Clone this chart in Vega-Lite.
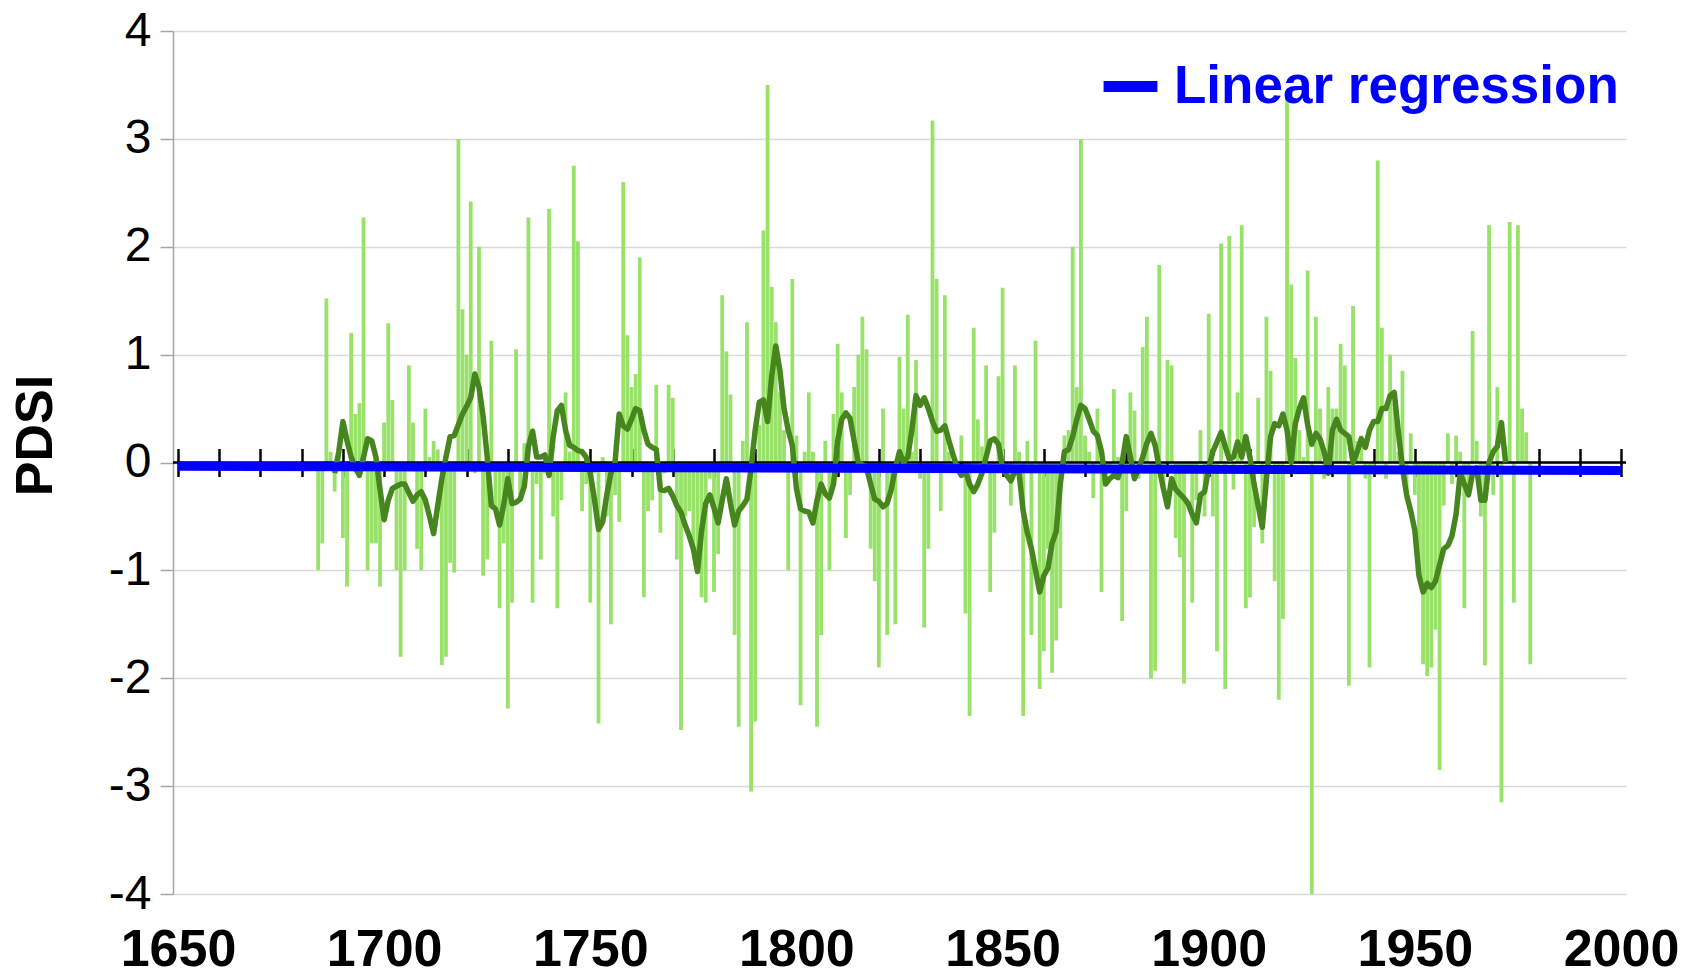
{
  "$schema": "https://vega.github.io/schema/vega-lite/v6.json",
  "autosize": "none",
  "width": 1453,
  "height": 863,
  "padding": {"left": 173, "top": 31, "right": 68, "bottom": 82},
  "background": "white",
  "config": {"view": {"stroke": null}, "font": "Liberation Sans"},
  "datasets": {
    "bars": [
{"year":1684,"pdsi":-1.0},{"year":1685,"pdsi":-0.75},{"year":1686,"pdsi":1.52},{"year":1687,"pdsi":0.1},{"year":1688,"pdsi":-0.27},{"year":1689,"pdsi":0.15},{"year":1690,"pdsi":-0.7},{"year":1691,"pdsi":-1.15},{"year":1692,"pdsi":1.2},{"year":1693,"pdsi":0.45},{"year":1694,"pdsi":0.55},{"year":1695,"pdsi":2.27},{"year":1696,"pdsi":-1.0},{"year":1697,"pdsi":-0.75},{"year":1698,"pdsi":-0.75},{"year":1699,"pdsi":-1.15},
{"year":1700,"pdsi":0.37},{"year":1701,"pdsi":1.29},{"year":1702,"pdsi":0.58},{"year":1703,"pdsi":-1.0},{"year":1704,"pdsi":-1.8},{"year":1705,"pdsi":-1.0},{"year":1706,"pdsi":0.9},{"year":1707,"pdsi":0.37},{"year":1708,"pdsi":-0.8},{"year":1709,"pdsi":-1.0},
{"year":1710,"pdsi":0.5},{"year":1711,"pdsi":0.05},{"year":1712,"pdsi":0.2},{"year":1713,"pdsi":0.12},{"year":1714,"pdsi":-1.88},{"year":1715,"pdsi":-1.8},{"year":1716,"pdsi":-0.93},{"year":1717,"pdsi":-1.02},{"year":1718,"pdsi":3.0},{"year":1719,"pdsi":1.42},
{"year":1720,"pdsi":1.0},{"year":1721,"pdsi":2.42},{"year":1722,"pdsi":-0.1},{"year":1723,"pdsi":2.0},{"year":1724,"pdsi":-1.05},{"year":1725,"pdsi":-0.9},{"year":1726,"pdsi":1.13},{"year":1727,"pdsi":-0.45},{"year":1728,"pdsi":-1.35},{"year":1729,"pdsi":-0.75},
{"year":1730,"pdsi":-2.28},{"year":1731,"pdsi":-1.3},{"year":1732,"pdsi":1.05},{"year":1733,"pdsi":-0.3},{"year":1734,"pdsi":0.18},{"year":1735,"pdsi":2.27},{"year":1736,"pdsi":-1.3},{"year":1737,"pdsi":-0.2},{"year":1738,"pdsi":-0.9},{"year":1739,"pdsi":-0.1},
{"year":1740,"pdsi":2.35},{"year":1741,"pdsi":-0.5},{"year":1742,"pdsi":-1.35},{"year":1743,"pdsi":-0.35},{"year":1744,"pdsi":0.65},{"year":1745,"pdsi":0.1},{"year":1746,"pdsi":2.75},{"year":1747,"pdsi":2.05},{"year":1748,"pdsi":-0.45},{"year":1749,"pdsi":-0.2},
{"year":1750,"pdsi":-1.3},{"year":1751,"pdsi":-0.1},{"year":1752,"pdsi":-2.42},{"year":1753,"pdsi":0.05},{"year":1754,"pdsi":-0.5},{"year":1755,"pdsi":-1.5},{"year":1756,"pdsi":-0.3},{"year":1757,"pdsi":-0.55},{"year":1758,"pdsi":2.6},{"year":1759,"pdsi":1.18},
{"year":1760,"pdsi":0.7},{"year":1761,"pdsi":0.82},{"year":1762,"pdsi":1.9},{"year":1763,"pdsi":-1.25},{"year":1764,"pdsi":-0.45},{"year":1765,"pdsi":-0.35},{"year":1766,"pdsi":0.72},{"year":1767,"pdsi":-0.65},{"year":1768,"pdsi":-0.1},{"year":1769,"pdsi":0.72},
{"year":1770,"pdsi":0.6},{"year":1771,"pdsi":-0.9},{"year":1772,"pdsi":-2.48},{"year":1773,"pdsi":-0.5},{"year":1774,"pdsi":-0.45},{"year":1775,"pdsi":-0.8},{"year":1776,"pdsi":-0.9},{"year":1777,"pdsi":-1.25},{"year":1778,"pdsi":-1.3},{"year":1779,"pdsi":-0.15},
{"year":1780,"pdsi":-1.2},{"year":1781,"pdsi":-0.85},{"year":1782,"pdsi":1.55},{"year":1783,"pdsi":1.03},{"year":1784,"pdsi":0.63},{"year":1785,"pdsi":-1.6},{"year":1786,"pdsi":-2.45},{"year":1787,"pdsi":0.2},{"year":1788,"pdsi":1.3},{"year":1789,"pdsi":-3.05},
{"year":1790,"pdsi":-2.4},{"year":1791,"pdsi":0.35},{"year":1792,"pdsi":2.15},{"year":1793,"pdsi":3.5},{"year":1794,"pdsi":1.63},{"year":1795,"pdsi":1.3},{"year":1796,"pdsi":0.65},{"year":1797,"pdsi":0.3},{"year":1798,"pdsi":-1.0},{"year":1799,"pdsi":1.7},
{"year":1800,"pdsi":0.25},{"year":1801,"pdsi":-2.25},{"year":1802,"pdsi":0.1},{"year":1803,"pdsi":0.65},{"year":1804,"pdsi":0.1},{"year":1805,"pdsi":-2.45},{"year":1806,"pdsi":-1.6},{"year":1807,"pdsi":0.2},{"year":1808,"pdsi":-1.0},{"year":1809,"pdsi":0.45},
{"year":1810,"pdsi":1.1},{"year":1811,"pdsi":0.65},{"year":1812,"pdsi":-0.7},{"year":1813,"pdsi":-0.3},{"year":1814,"pdsi":0.7},{"year":1815,"pdsi":1.0},{"year":1816,"pdsi":1.35},{"year":1817,"pdsi":1.05},{"year":1818,"pdsi":-0.8},{"year":1819,"pdsi":-1.1},
{"year":1820,"pdsi":-1.9},{"year":1821,"pdsi":0.5},{"year":1822,"pdsi":-1.6},{"year":1823,"pdsi":-0.2},{"year":1824,"pdsi":-1.5},{"year":1825,"pdsi":0.98},{"year":1826,"pdsi":0.5},{"year":1827,"pdsi":1.37},{"year":1828,"pdsi":0.1},{"year":1829,"pdsi":0.95},
{"year":1830,"pdsi":-0.15},{"year":1831,"pdsi":-1.53},{"year":1832,"pdsi":-0.8},{"year":1833,"pdsi":3.17},{"year":1834,"pdsi":1.7},{"year":1835,"pdsi":-0.45},{"year":1836,"pdsi":1.55},{"year":1837,"pdsi":0.1},{"year":1838,"pdsi":-0.1},{"year":1839,"pdsi":-0.1},
{"year":1840,"pdsi":0.25},{"year":1841,"pdsi":-1.4},{"year":1842,"pdsi":-2.35},{"year":1843,"pdsi":1.25},{"year":1844,"pdsi":0.4},{"year":1845,"pdsi":0.15},{"year":1846,"pdsi":0.9},{"year":1847,"pdsi":-1.2},{"year":1848,"pdsi":-0.65},{"year":1849,"pdsi":0.8},
{"year":1850,"pdsi":1.62},{"year":1851,"pdsi":-0.1},{"year":1852,"pdsi":-0.4},{"year":1853,"pdsi":0.9},{"year":1854,"pdsi":0.1},{"year":1855,"pdsi":-2.35},{"year":1856,"pdsi":0.2},{"year":1857,"pdsi":-1.6},{"year":1858,"pdsi":1.13},{"year":1859,"pdsi":-2.1},
{"year":1860,"pdsi":-1.75},{"year":1861,"pdsi":-0.8},{"year":1862,"pdsi":-1.95},{"year":1863,"pdsi":-1.65},{"year":1864,"pdsi":-1.35},{"year":1865,"pdsi":0.25},{"year":1866,"pdsi":0.3},{"year":1867,"pdsi":2.0},{"year":1868,"pdsi":0.7},{"year":1869,"pdsi":3.0},
{"year":1870,"pdsi":0.25},{"year":1871,"pdsi":0.1},{"year":1872,"pdsi":-0.33},{"year":1873,"pdsi":0.5},{"year":1874,"pdsi":-1.2},{"year":1875,"pdsi":-0.15},{"year":1876,"pdsi":-0.05},{"year":1877,"pdsi":0.68},{"year":1878,"pdsi":0.05},{"year":1879,"pdsi":-1.47},
{"year":1880,"pdsi":-0.45},{"year":1881,"pdsi":0.65},{"year":1882,"pdsi":0.48},{"year":1883,"pdsi":-0.15},{"year":1884,"pdsi":1.07},{"year":1885,"pdsi":1.35},{"year":1886,"pdsi":-2.0},{"year":1887,"pdsi":-1.93},{"year":1888,"pdsi":1.83},{"year":1889,"pdsi":-0.25},
{"year":1890,"pdsi":0.95},{"year":1891,"pdsi":0.9},{"year":1892,"pdsi":-0.7},{"year":1893,"pdsi":-0.88},{"year":1894,"pdsi":-2.05},{"year":1895,"pdsi":-0.1},{"year":1896,"pdsi":-1.3},{"year":1897,"pdsi":-0.35},{"year":1898,"pdsi":0.3},{"year":1899,"pdsi":-0.5},
{"year":1900,"pdsi":1.38},{"year":1901,"pdsi":-0.5},{"year":1902,"pdsi":-1.75},{"year":1903,"pdsi":2.03},{"year":1904,"pdsi":-2.1},{"year":1905,"pdsi":2.1},{"year":1906,"pdsi":-0.25},{"year":1907,"pdsi":0.65},{"year":1908,"pdsi":2.2},{"year":1909,"pdsi":-1.35},
{"year":1910,"pdsi":-1.25},{"year":1911,"pdsi":-0.6},{"year":1912,"pdsi":0.6},{"year":1913,"pdsi":-0.75},{"year":1914,"pdsi":1.35},{"year":1915,"pdsi":0.85},{"year":1916,"pdsi":-1.1},{"year":1917,"pdsi":-2.2},{"year":1918,"pdsi":-1.45},{"year":1919,"pdsi":3.4},
{"year":1920,"pdsi":1.65},{"year":1921,"pdsi":0.97},{"year":1922,"pdsi":0.3},{"year":1923,"pdsi":0.05},{"year":1924,"pdsi":1.78},{"year":1925,"pdsi":-4.0},{"year":1926,"pdsi":1.35},{"year":1927,"pdsi":0.5},{"year":1928,"pdsi":-0.15},{"year":1929,"pdsi":0.7},
{"year":1930,"pdsi":0.5},{"year":1931,"pdsi":0.5},{"year":1932,"pdsi":1.1},{"year":1933,"pdsi":0.9},{"year":1934,"pdsi":-2.07},{"year":1935,"pdsi":1.45},{"year":1936,"pdsi":0.2},{"year":1937,"pdsi":0.25},{"year":1938,"pdsi":-0.15},{"year":1939,"pdsi":-1.9},
{"year":1940,"pdsi":-0.05},{"year":1941,"pdsi":2.8},{"year":1942,"pdsi":1.25},{"year":1943,"pdsi":-0.15},{"year":1944,"pdsi":1.0},{"year":1945,"pdsi":0.55},{"year":1946,"pdsi":0.1},{"year":1947,"pdsi":0.85},{"year":1948,"pdsi":-0.35},{"year":1949,"pdsi":0.27},
{"year":1950,"pdsi":-0.3},{"year":1951,"pdsi":-1.0},{"year":1952,"pdsi":-1.87},{"year":1953,"pdsi":-1.98},{"year":1954,"pdsi":-1.9},{"year":1955,"pdsi":-1.55},{"year":1956,"pdsi":-2.85},{"year":1957,"pdsi":-0.4},{"year":1958,"pdsi":0.27},{"year":1959,"pdsi":-0.2},
{"year":1960,"pdsi":0.25},{"year":1961,"pdsi":0.1},{"year":1962,"pdsi":-1.35},{"year":1963,"pdsi":-0.3},{"year":1964,"pdsi":1.22},{"year":1965,"pdsi":0.2},{"year":1966,"pdsi":-0.5},{"year":1967,"pdsi":-1.88},{"year":1968,"pdsi":2.2},{"year":1969,"pdsi":-0.3},
{"year":1970,"pdsi":0.7},{"year":1971,"pdsi":-3.15},{"year":1972,"pdsi":0.15},{"year":1973,"pdsi":2.23},{"year":1974,"pdsi":-1.3},{"year":1975,"pdsi":2.2},{"year":1976,"pdsi":0.5},{"year":1977,"pdsi":0.28},{"year":1978,"pdsi":-1.87}
    ],
    "smooth": [
{"year":1688,"v":-0.1},{"year":1689,"v":0.1},{"year":1690,"v":0.38},{"year":1691,"v":0.2},{"year":1692,"v":0.05},{"year":1693,"v":-0.05},{"year":1694,"v":-0.12},{"year":1695,"v":0.05},{"year":1696,"v":0.22},{"year":1697,"v":0.2},{"year":1698,"v":0.05},{"year":1699,"v":-0.25},
{"year":1700,"v":-0.53},{"year":1701,"v":-0.35},{"year":1702,"v":-0.24},{"year":1703,"v":-0.22},{"year":1704,"v":-0.2},{"year":1705,"v":-0.2},{"year":1706,"v":-0.28},{"year":1707,"v":-0.36},{"year":1708,"v":-0.3},{"year":1709,"v":-0.27},
{"year":1710,"v":-0.35},{"year":1711,"v":-0.5},{"year":1712,"v":-0.66},{"year":1713,"v":-0.4},{"year":1714,"v":-0.15},{"year":1715,"v":0.05},{"year":1716,"v":0.24},{"year":1717,"v":0.25},{"year":1718,"v":0.35},{"year":1719,"v":0.45},
{"year":1720,"v":0.52},{"year":1721,"v":0.6},{"year":1722,"v":0.82},{"year":1723,"v":0.7},{"year":1724,"v":0.43},{"year":1725,"v":0.05},{"year":1726,"v":-0.4},{"year":1727,"v":-0.43},{"year":1728,"v":-0.58},{"year":1729,"v":-0.39},
{"year":1730,"v":-0.15},{"year":1731,"v":-0.38},{"year":1732,"v":-0.37},{"year":1733,"v":-0.34},{"year":1734,"v":-0.22},{"year":1735,"v":0.15},{"year":1736,"v":0.29},{"year":1737,"v":0.05},{"year":1738,"v":0.05},{"year":1739,"v":0.07},
{"year":1740,"v":-0.12},{"year":1741,"v":0.24},{"year":1742,"v":0.48},{"year":1743,"v":0.53},{"year":1744,"v":0.3},{"year":1745,"v":0.16},{"year":1746,"v":0.14},{"year":1747,"v":0.11},{"year":1748,"v":0.1},{"year":1749,"v":0.05},
{"year":1750,"v":-0.1},{"year":1751,"v":-0.34},{"year":1752,"v":-0.62},{"year":1753,"v":-0.55},{"year":1754,"v":-0.3},{"year":1755,"v":-0.1},{"year":1756,"v":0.0},{"year":1757,"v":0.45},{"year":1758,"v":0.34},{"year":1759,"v":0.31},
{"year":1760,"v":0.4},{"year":1761,"v":0.5},{"year":1762,"v":0.48},{"year":1763,"v":0.3},{"year":1764,"v":0.17},{"year":1765,"v":0.14},{"year":1766,"v":0.12},{"year":1767,"v":-0.25},{"year":1768,"v":-0.26},{"year":1769,"v":-0.24},
{"year":1770,"v":-0.31},{"year":1771,"v":-0.4},{"year":1772,"v":-0.46},{"year":1773,"v":-0.58},{"year":1774,"v":-0.68},{"year":1775,"v":-0.8},{"year":1776,"v":-1.01},{"year":1777,"v":-0.63},{"year":1778,"v":-0.38},{"year":1779,"v":-0.3},
{"year":1780,"v":-0.42},{"year":1781,"v":-0.56},{"year":1782,"v":-0.35},{"year":1783,"v":-0.15},{"year":1784,"v":-0.38},{"year":1785,"v":-0.58},{"year":1786,"v":-0.45},{"year":1787,"v":-0.4},{"year":1788,"v":-0.34},{"year":1789,"v":-0.05},
{"year":1790,"v":0.3},{"year":1791,"v":0.56},{"year":1792,"v":0.58},{"year":1793,"v":0.38},{"year":1794,"v":0.8},{"year":1795,"v":1.08},{"year":1796,"v":0.85},{"year":1797,"v":0.5},{"year":1798,"v":0.3},{"year":1799,"v":0.16},
{"year":1800,"v":-0.24},{"year":1801,"v":-0.43},{"year":1802,"v":-0.45},{"year":1803,"v":-0.46},{"year":1804,"v":-0.56},{"year":1805,"v":-0.35},{"year":1806,"v":-0.2},{"year":1807,"v":-0.29},{"year":1808,"v":-0.33},{"year":1809,"v":-0.2},
{"year":1810,"v":0.2},{"year":1811,"v":0.4},{"year":1812,"v":0.46},{"year":1813,"v":0.41},{"year":1814,"v":0.2},{"year":1815,"v":0.0},{"year":1816,"v":-0.02},{"year":1817,"v":-0.05},{"year":1818,"v":-0.2},{"year":1819,"v":-0.34},
{"year":1820,"v":-0.36},{"year":1821,"v":-0.41},{"year":1822,"v":-0.38},{"year":1823,"v":-0.25},{"year":1824,"v":-0.05},{"year":1825,"v":0.1},{"year":1826,"v":0.0},{"year":1827,"v":0.05},{"year":1828,"v":0.3},{"year":1829,"v":0.62},
{"year":1830,"v":0.53},{"year":1831,"v":0.6},{"year":1832,"v":0.5},{"year":1833,"v":0.38},{"year":1834,"v":0.29},{"year":1835,"v":0.3},{"year":1836,"v":0.34},{"year":1837,"v":0.2},{"year":1838,"v":0.07},{"year":1839,"v":-0.05},
{"year":1840,"v":-0.12},{"year":1841,"v":-0.08},{"year":1842,"v":-0.2},{"year":1843,"v":-0.27},{"year":1844,"v":-0.2},{"year":1845,"v":-0.1},{"year":1846,"v":0.05},{"year":1847,"v":0.2},{"year":1848,"v":0.22},{"year":1849,"v":0.17},
{"year":1850,"v":-0.05},{"year":1851,"v":-0.12},{"year":1852,"v":-0.17},{"year":1853,"v":-0.08},{"year":1854,"v":-0.1},{"year":1855,"v":-0.45},{"year":1856,"v":-0.65},{"year":1857,"v":-0.8},{"year":1858,"v":-1.0},{"year":1859,"v":-1.2},
{"year":1860,"v":-1.05},{"year":1861,"v":-0.98},{"year":1862,"v":-0.75},{"year":1863,"v":-0.64},{"year":1864,"v":-0.2},{"year":1865,"v":0.1},{"year":1866,"v":0.12},{"year":1867,"v":0.24},{"year":1868,"v":0.4},{"year":1869,"v":0.53},
{"year":1870,"v":0.5},{"year":1871,"v":0.4},{"year":1872,"v":0.29},{"year":1873,"v":0.25},{"year":1874,"v":0.1},{"year":1875,"v":-0.2},{"year":1876,"v":-0.15},{"year":1877,"v":-0.12},{"year":1878,"v":-0.14},{"year":1879,"v":0.0},
{"year":1880,"v":0.24},{"year":1881,"v":0.05},{"year":1882,"v":-0.15},{"year":1883,"v":-0.05},{"year":1884,"v":0.05},{"year":1885,"v":0.18},{"year":1886,"v":0.27},{"year":1887,"v":0.16},{"year":1888,"v":-0.05},{"year":1889,"v":-0.24},
{"year":1890,"v":-0.41},{"year":1891,"v":-0.15},{"year":1892,"v":-0.25},{"year":1893,"v":-0.29},{"year":1894,"v":-0.33},{"year":1895,"v":-0.38},{"year":1896,"v":-0.48},{"year":1897,"v":-0.56},{"year":1898,"v":-0.3},{"year":1899,"v":-0.27},
{"year":1900,"v":-0.05},{"year":1901,"v":0.1},{"year":1902,"v":0.19},{"year":1903,"v":0.28},{"year":1904,"v":0.15},{"year":1905,"v":0.03},{"year":1906,"v":0.05},{"year":1907,"v":0.19},{"year":1908,"v":0.05},{"year":1909,"v":0.24},
{"year":1910,"v":0.05},{"year":1911,"v":-0.2},{"year":1912,"v":-0.4},{"year":1913,"v":-0.6},{"year":1914,"v":-0.15},{"year":1915,"v":0.24},{"year":1916,"v":0.36},{"year":1917,"v":0.34},{"year":1918,"v":0.45},{"year":1919,"v":0.3},
{"year":1920,"v":0.0},{"year":1921,"v":0.36},{"year":1922,"v":0.5},{"year":1923,"v":0.6},{"year":1924,"v":0.35},{"year":1925,"v":0.17},{"year":1926,"v":0.27},{"year":1927,"v":0.22},{"year":1928,"v":0.1},{"year":1929,"v":-0.1},
{"year":1930,"v":0.3},{"year":1931,"v":0.4},{"year":1932,"v":0.3},{"year":1933,"v":0.27},{"year":1934,"v":0.24},{"year":1935,"v":0.0},{"year":1936,"v":0.1},{"year":1937,"v":0.22},{"year":1938,"v":0.14},{"year":1939,"v":0.3},
{"year":1940,"v":0.38},{"year":1941,"v":0.38},{"year":1942,"v":0.5},{"year":1943,"v":0.5},{"year":1944,"v":0.62},{"year":1945,"v":0.65},{"year":1946,"v":0.28},{"year":1947,"v":-0.05},{"year":1948,"v":-0.3},{"year":1949,"v":-0.45},
{"year":1950,"v":-0.63},{"year":1951,"v":-1.05},{"year":1952,"v":-1.2},{"year":1953,"v":-1.12},{"year":1954,"v":-1.16},{"year":1955,"v":-1.1},{"year":1956,"v":-0.95},{"year":1957,"v":-0.8},{"year":1958,"v":-0.77},{"year":1959,"v":-0.68},
{"year":1960,"v":-0.48},{"year":1961,"v":-0.1},{"year":1962,"v":-0.2},{"year":1963,"v":-0.3},{"year":1964,"v":-0.1},{"year":1965,"v":-0.05},{"year":1966,"v":-0.35},{"year":1967,"v":-0.35},{"year":1968,"v":0.0},{"year":1969,"v":0.1},
{"year":1970,"v":0.15},{"year":1971,"v":0.37},{"year":1972,"v":0.0}
    ],
    "fit": [{"year":1650,"v":-0.035},{"year":2000,"v":-0.075}],
    "zero": [{"v":0}]
  },
  "resolve": {"axis": {"x": "independent"}},
  "layer": [
    {
      "data": {"name": "bars"},
      "mark": {"type": "bar", "size": 3.8, "color": "#99E26A"},
      "encoding": {
        "x": {"field": "year", "type": "quantitative",
          "scale": {"domain": [1650, 2000], "nice": false, "zero": false},
          "axis": {"orient": "bottom", "values": [1650,1700,1750,1800,1850,1900,1950,2000], "format": "d",
            "title": null, "domain": false, "ticks": false, "grid": false,
            "labelFont": "Liberation Sans", "labelFontSize": 52, "labelFontWeight": "bold", "labelColor": "#000000",
            "labelPadding": 30, "labelFlush": false, "labelOverlap": false}},
        "y": {"field": "pdsi", "type": "quantitative",
          "scale": {"domain": [-4, 4], "nice": false},
          "axis": {"values": [-4,-3,-2,-1,0,1,2,3,4], "title": "PDSI", "labelExpr": "'' + datum.value",
            "grid": true, "gridColor": "#D9D9D9", "gridWidth": 1.5,
            "domain": true, "domainColor": "#A6A6A6", "domainWidth": 1.5,
            "ticks": true, "tickColor": "#A6A6A6", "tickSize": 13, "tickWidth": 1.5,
            "labelFont": "Liberation Sans", "labelFontSize": 48, "labelColor": "#000000", "labelPadding": 9,
            "titleFont": "Liberation Sans", "titleFontSize": 52, "titleFontWeight": "bold", "titleColor": "#000000",
            "titleAngle": -90, "titleX": -138, "titleY": 404, "titleAlign": "center", "titleBaseline": "middle"}}
      }
    },
    {
      "data": {"name": "zero"},
      "mark": {"type": "rule", "color": "#000000", "strokeWidth": 2.5},
      "encoding": {"y": {"field": "v", "type": "quantitative"}}
    },
    {
      "data": {"name": "smooth"},
      "mark": {"type": "line", "color": "#47861E", "strokeWidth": 5.5, "strokeJoin": "round"},
      "encoding": {
        "x": {"field": "year", "type": "quantitative", "axis": null},
        "y": {"field": "v", "type": "quantitative"}
      }
    },
    {
      "data": {"name": "fit"},
      "mark": {"type": "line", "strokeWidth": 9},
      "encoding": {
        "x": {"field": "year", "type": "quantitative",
          "axis": {"orient": "bottom", "values": [1650,1660,1670,1680,1690,1700,1710,1720,1730,1740,1750,1760,1770,1780,1790,1800,1810,1820,1830,1840,1850,1860,1870,1880,1890,1900,1910,1920,1930,1940,1950,1960,1970,1980,1990,2000],
            "labels": false, "domain": false, "grid": false, "title": null,
            "ticks": true, "tickColor": "#000000", "tickSize": 28, "tickWidth": 2.5, "offset": -445.5}},
        "y": {"field": "v", "type": "quantitative"},
        "color": {"datum": "Linear regression", "type": "nominal",
          "scale": {"range": ["#0000FF"]},
          "legend": {"orient": "none", "legendX": 925, "legendY": 23, "title": null, "padding": 0,
            "symbolType": "stroke", "symbolStrokeWidth": 11, "symbolSize": 2900, "symbolStrokeColor": "#0000FF",
            "labelFont": "Liberation Sans", "labelFontSize": 53, "labelFontWeight": "bold", "labelColor": "#0000FF",
            "labelOffset": 11, "labelLimit": 0}}
      }
    }
  ]
}
